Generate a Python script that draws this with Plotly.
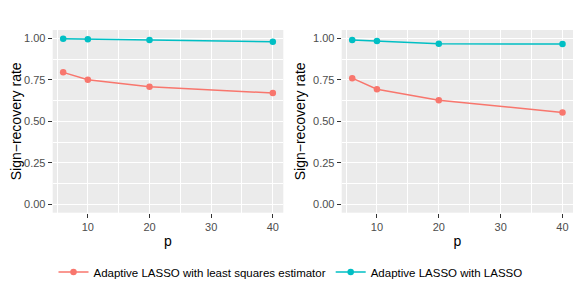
import plotly.graph_objects as go

p = [6, 10, 20, 40]
ls_left = [0.795, 0.750, 0.709, 0.670]
lasso_left = [0.997, 0.995, 0.990, 0.980]
ls_right = [0.760, 0.693, 0.627, 0.554]
lasso_right = [0.990, 0.984, 0.967, 0.965]

names = ["Adaptive LASSO with least squares estimator", "Adaptive LASSO with LASSO"]
colors = ["#F8766D", "#00BFC4"]

# page body has an 8px margin; figure fills the remainder of the window
OFF = 8
W, H = 581 - OFF, 291 - OFF
fig = go.Figure()

def add(xs, ys, name, color, xa, ya, show):
    fig.add_trace(go.Scatter(
        x=xs, y=ys, name=name, mode="lines+markers",
        line=dict(color=color, width=1.5),
        marker=dict(color=color, size=6.5),
        xaxis=xa, yaxis=ya, showlegend=show, legendgroup=name))

add(p, ls_left, names[0], colors[0], "x", "y", True)
add(p, lasso_left, names[1], colors[1], "x", "y", True)
add(p, ls_right, names[0], colors[0], "x2", "y2", False)
add(p, lasso_right, names[1], colors[1], "x2", "y2", False)

font = "Liberation Sans, Arial, sans-serif"
tickfont = dict(family=font, size=11, color="#4D4D4D")
titlefont = dict(family=font, size=14, color="black")

def px(x):
    return (x - OFF) / W

def py(y):
    return 1 - (y - OFF) / H

def xaxis(dom):
    return dict(domain=dom, range=[4.3, 41.7], tickvals=[10, 20, 30, 40],
                showgrid=True, gridcolor="white", gridwidth=1.1,
                minor=dict(tickvals=[5, 15, 25, 35], showgrid=True, gridcolor="white", gridwidth=0.5, ticks=""),
                ticks="outside", ticklen=4, tickcolor="#333333", tickwidth=1,
                tickfont=tickfont, zeroline=False, showline=False, automargin=False,
                title=dict(text="p", font=titlefont, standoff=4))

def yaxis(anchor):
    return dict(domain=[py(212.7), py(30)], range=[-0.05, 1.05],
                tickvals=[0, 0.25, 0.5, 0.75, 1.0], ticktext=["0.00", "0.25", "0.50", "0.75", "1.00"],
                showgrid=True, gridcolor="white", gridwidth=1.1,
                minor=dict(tickvals=[0.125, 0.375, 0.625, 0.875], showgrid=True, gridcolor="white", gridwidth=0.5, ticks=""),
                ticks="outside", ticklen=4, tickcolor="#333333", tickwidth=1,
                tickfont=tickfont, zeroline=False, showline=False, anchor=anchor, automargin=False,
                title=dict(text="Sign\u2212recovery rate", font=titlefont, standoff=4))

fig.update_layout(
    width=W, height=H,
    margin=dict(l=0, r=0, t=0, b=0, autoexpand=False),
    paper_bgcolor="white", plot_bgcolor="#EBEBEB",
    xaxis=xaxis([px(52.7), px(283.3)]),
    xaxis2=dict(xaxis([px(341.7), px(573)]), anchor="y2"),
    yaxis=yaxis("x"),
    yaxis2=yaxis("x2"),
    legend=dict(orientation="h", x=px(290.5), xanchor="center", y=py(272), yanchor="middle",
                font=dict(family=font, size=11.5, color="black"), bgcolor="rgba(0,0,0,0)",
                itemwidth=30),
    font=dict(family=font),
)
fig.write_html("out.html")
